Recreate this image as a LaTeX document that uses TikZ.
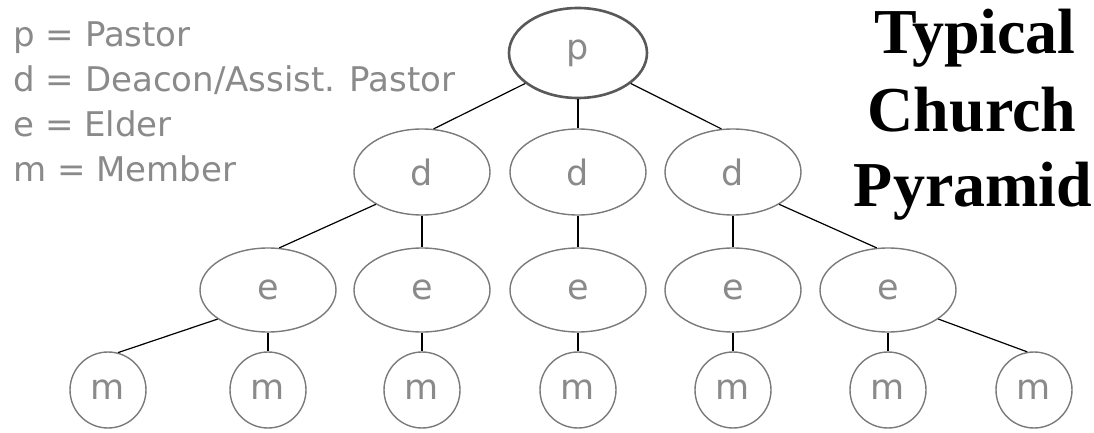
\documentclass[tikz,border=0pt]{standalone}
\usepackage{fontspec}
\setmainfont{DejaVu Sans}
\newfontfamily\titlefont{Liberation Serif}
\usetikzlibrary{shapes.geometric}
\definecolor{txtgray}{HTML}{8A8A8A}
\definecolor{bordergray}{HTML}{7A7A7A}
\begin{document}
\begin{tikzpicture}[x=0.5pt,y=-0.5pt,
  oval/.style={ellipse, draw=bordergray, line width=0.7pt, inner sep=0pt, text=txtgray, font=\fontsize{17.5}{20}\selectfont},
  pnode/.style={oval, draw=black!65, line width=1.3pt, minimum width=69pt, minimum height=45pt},
  dnode/.style={oval, minimum width=68pt, minimum height=43pt},
  enode/.style={oval, minimum width=68pt, minimum height=42pt},
  mnode/.style={circle, draw=bordergray, line width=0.7pt, inner sep=0pt, minimum size=38pt, text=txtgray, font=\fontsize{17.5}{20}\selectfont},
  link/.style={draw=black, line width=0.6pt},
  legend/.style={anchor=base west, text=txtgray, font=\fontsize{17}{20}\selectfont, inner sep=0pt},
  titleline/.style={anchor=base, font=\titlefont\bfseries\fontsize{32}{36}\selectfont, inner sep=0pt}]
\useasboundingbox[fill=white] (0,0) rectangle (1094,433);
% legend
\node[legend] (l1) at (13,47) {p = Pastor};
\node[legend] (l2) at (13,92) {d = Deacon/Assist. Pastor};
\node[legend] (l3) at (13,137) {e = Elder};
\node[legend] (l4) at (13,182) {m = Member};
% title
\node[titleline] (t1) at (975,54) {Typical};
\node[titleline] (t2) at (972,132) {Church};
\node[titleline] (t3) at (973,206) {Pyramid};
% nodes
\node[pnode] (p) at (578,53) {p};
\node[dnode] (d1) at (422,172) {d};
\node[dnode] (d2) at (578,172) {d};
\node[dnode] (d3) at (733,172) {d};
\node[enode] (e1) at (268,290) {e};
\node[enode] (e2) at (422,290) {e};
\node[enode] (e3) at (578,290) {e};
\node[enode] (e4) at (733,290) {e};
\node[enode] (e5) at (888,290) {e};
\node[mnode] (m1) at (108,390) {m};
\node[mnode] (m2) at (268,390) {m};
\node[mnode] (m3) at (422,390) {m};
\node[mnode] (m4) at (578,390) {m};
\node[mnode] (m5) at (733,390) {m};
\node[mnode] (m6) at (888,390) {m};
\node[mnode] (m7) at (1034,390) {m};
% links
\draw[link] (p.210) -- (d1.75);
\draw[link] (p) -- (d2);
\draw[link] (p.330) -- (d3.105);
\draw[link] (d1.215) -- (e1.75);
\draw[link] (d1) -- (e2);
\draw[link] (d2) -- (e3);
\draw[link] (d3) -- (e4);
\draw[link] (d3.325) -- (e5.105);
\draw[link] (e1.210) -- (m1.75);
\draw[link] (e1) -- (m2);
\draw[link] (e2) -- (m3);
\draw[link] (e3) -- (m4);
\draw[link] (e4) -- (m5);
\draw[link] (e5) -- (m6);
\draw[link] (e5.330) -- (m7.100);
\end{tikzpicture}
\end{document}
